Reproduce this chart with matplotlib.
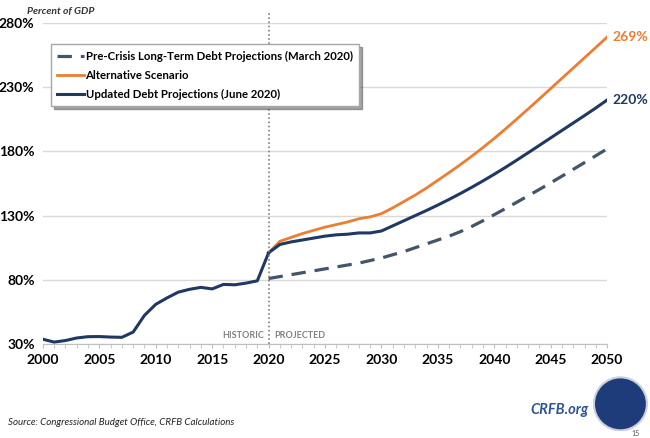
import matplotlib
matplotlib.use("Agg")
import matplotlib.pyplot as plt
from matplotlib.patches import Circle

plt.rcParams['font.family'] = ['Lato', 'DejaVu Sans']

# historic debt held by the public, % of GDP
hist_years = list(range(2000, 2021))
hist_debt = [33.7, 31.5, 32.7, 34.7, 35.7, 35.8, 35.4, 35.2, 39.3, 52.3, 60.9,
             65.9, 70.4, 72.6, 74.1, 72.9, 76.4, 76.1, 77.4, 79.2, 101.0]

proj_years = list(range(2020, 2051))
updated = [101.0, 107.5, 109.5, 111.0, 112.5, 114.0, 115.0, 115.5, 116.5, 116.5, 118.0,
           122.0, 126.0, 130.0, 134.0, 138.2, 142.6, 147.2, 152.0, 157.0, 162.2,
           167.6, 173.2, 178.9, 184.7, 190.5, 196.3, 202.1, 207.9, 213.8, 220.0]
alternative = [101.0, 110.0, 113.0, 116.0, 118.5, 121.0, 123.0, 125.0, 127.5, 129.0, 131.5,
               136.0, 141.0, 146.0, 151.5, 157.5, 163.5, 169.7, 176.2, 183.0, 190.1,
               197.5, 205.2, 213.0, 220.9, 228.9, 236.9, 244.9, 252.9, 260.9, 269.0]
pre_crisis = [81.0, 82.5, 84.0, 85.5, 87.0, 88.5, 90.0, 91.5, 93.0, 95.0, 97.0,
              99.5, 102.0, 105.0, 108.0, 111.0, 114.0, 117.5, 121.5, 126.0, 130.7,
              135.5, 140.4, 145.4, 150.4, 155.5, 160.7, 166.0, 171.3, 176.6, 182.0]

orange = '#ED7D31'
navy = '#1F3864'
slate = '#44546A'

fig = plt.figure(figsize=(6.5, 4.38), dpi=100)
ax = fig.add_axes([0.066, 0.2146, 0.868, 0.733])

ax.plot(proj_years, pre_crisis, color=slate, lw=2.3, dashes=(4.5, 2.8),
        label='Pre-Crisis Long-Term Debt Projections (March 2020)')
ax.plot(proj_years, alternative, color=orange, lw=2.0, label='Alternative Scenario')
ax.plot(proj_years, updated, color=navy, lw=2.2, label='Updated Debt Projections (June 2020)')
ax.plot(hist_years, hist_debt, color=navy, lw=2.2)

ax.set_xlim(2000, 2050)
ax.set_ylim(30, 280)
ax.set_yticks([30, 80, 130, 180, 230, 280])
ax.set_yticklabels([f'{v}%' for v in [30, 80, 130, 180, 230, 280]])
ax.set_xticks(range(2000, 2051, 5))
ax.set_xticks(range(2000, 2051), minor=True)
for lab in ax.get_xticklabels() + ax.get_yticklabels():
    lab.set_fontweight('bold')
    lab.set_fontsize(10)
ax.tick_params(axis='y', length=0, pad=6)
ax.tick_params(axis='x', which='both', direction='out', length=3, color='#BFBFBF', pad=4)

for s in ['top', 'right', 'left']:
    ax.spines[s].set_visible(False)
ax.spines['bottom'].set_color('#BFBFBF')
ax.grid(axis='y', color='#D9D9D9', lw=1)
ax.set_axisbelow(True)

# historic / projected divider
ax.axvline(2020, ymin=0, ymax=1.03, color='#7F7F7F', lw=1.2, ls=(0, (1, 1.5)), clip_on=False)
ax.text(2019.6, 36.5, 'HISTORIC', ha='right', va='center', fontsize=6.5,
        fontweight='bold', color='#808080')
ax.text(2020.5, 36.5, 'PROJECTED', ha='left', va='center', fontsize=6.5,
        fontweight='bold', color='#808080')

ax.text(2050.5, alternative[-1], f'{alternative[-1]:.0f}%', color=orange, fontsize=10,
        fontweight='bold', va='center', ha='left', clip_on=False)
ax.text(2050.5, updated[-1], f'{updated[-1]:.0f}%', color=navy, fontsize=10,
        fontweight='bold', va='center', ha='left', clip_on=False)

leg = ax.legend(loc='upper left', bbox_to_anchor=(0.014, 0.933), frameon=True, shadow=True,
                fancybox=False, prop={'weight': 'bold', 'size': 8.2}, handlelength=2.4,
                handletextpad=0.1, borderpad=0.55, labelspacing=0.72, borderaxespad=0)
leg.get_frame().set_edgecolor('#A6A6A6')

fig.text(0.042, 0.974, 'Percent of GDP', fontsize=7.5, style='italic',
         fontweight='bold', color='#333333', va='center')
fig.text(0.012, 0.035, 'Source: Congressional Budget Office, CRFB Calculations',
         fontsize=7, style='italic', color='#222222', va='center')
fig.text(0.905, 0.063, 'CRFB.org', fontsize=10.5, style='italic', fontweight='bold',
         color='#2E5597', ha='right', va='center')

# logo placeholder
lax = fig.add_axes([0.912, 0.015, 0.085, 0.126])
lax.set_aspect('equal')
lax.add_patch(Circle((0.5, 0.5), 0.48, color='#1F3C7A', ec='#C9CFDB', lw=1.5))
lax.set_xlim(0, 1)
lax.set_ylim(0, 1)
lax.axis('off')
fig.text(0.972, 0.01, '15', fontsize=5, color='#555555', va='center')

fig.savefig('out.png', dpi=100)
